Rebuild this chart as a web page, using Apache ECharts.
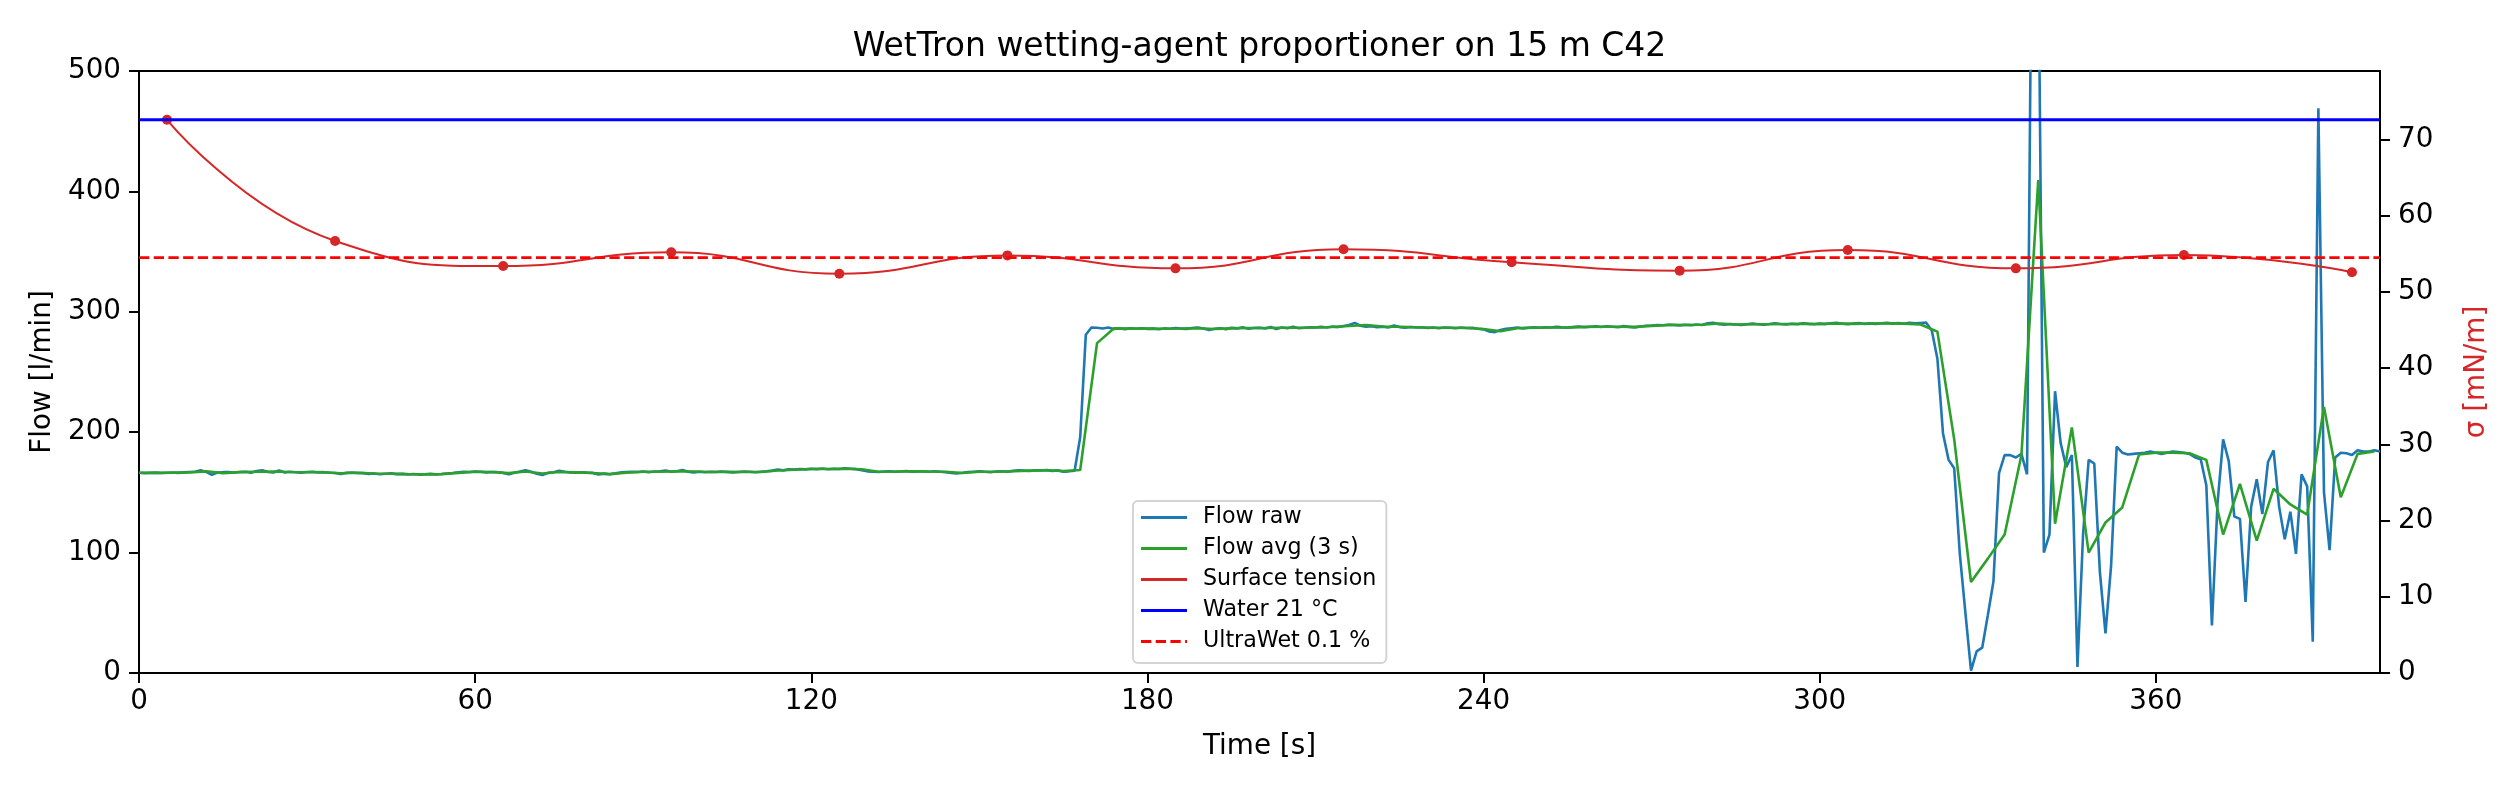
<!DOCTYPE html>
<html>
<head>
<meta charset="utf-8">
<script src="https://cdn.jsdelivr.net/npm/echarts@6/dist/echarts.min.js"></script>
<style>
html,body{margin:0;padding:0;background:#fff;}
#chart{width:2519px;height:787px;}
</style>
</head>
<body>
<div id="chart"></div>
<script>
// ---------------- data ----------------
const chartTitle = 'WetTron wetting-agent proportioner on 15 m C42';
const xTicks = [0, 60, 120, 180, 240, 300, 360];
const flowTicks = [0, 100, 200, 300, 400, 500];
const sigmaTicks = [0, 10, 20, 30, 40, 50, 60, 70];
const timeMin = 0, timeMax = 400;
const flowMax = 500, sigmaMax = 79;

// Flow raw, one sample per second, t = 0 ... 400 s  [l/min]
const flowRawStep = 1;
const flowRaw = [
 166.3,166.0,166.2,166.4,166.1,166.3,166.5,166.2,166.6,167.0,
 167.2,168.3,167.0,164.6,166.4,166.8,167.0,166.5,166.9,167.1,
 166.4,167.8,168.4,167.0,166.5,168.2,166.5,167.2,166.8,166.4,
 166.9,167.2,166.5,166.8,166.3,166.1,165.3,166.2,166.5,166.1,
 166.0,165.4,165.7,165.1,165.5,165.8,165.2,165.4,164.9,165.3,
 164.8,165.1,165.4,165.0,165.3,165.7,166.1,166.8,167.2,166.9,
 167.3,167.1,166.6,167.0,166.8,166.2,165.0,166.4,167.3,168.4,
 167.2,165.5,164.5,166.2,166.8,167.9,167.1,166.5,166.3,166.8,
 166.4,166.2,164.9,165.6,165.1,165.8,166.6,166.9,167.1,167.0,
 167.4,166.8,167.3,167.6,168.1,167.2,167.6,168.6,167.1,166.6,
 167.2,166.8,167.1,166.9,167.4,167.0,166.5,166.9,167.3,167.1,
 166.8,167.2,167.6,168.1,168.9,168.3,169.2,169.0,169.5,169.1,
 169.6,169.3,169.8,169.2,169.6,169.4,170.1,169.7,169.3,168.5,
 167.5,167.2,166.9,167.3,167.6,167.1,167.4,167.8,167.2,167.5,
 167.3,167.1,167.6,167.2,166.8,166.2,165.8,166.3,166.9,167.2,
 167.5,167.1,166.8,167.3,167.6,167.2,167.9,168.3,168.1,167.8,
 168.4,168.2,168.6,167.9,168.3,167.1,167.5,168.0,196.0,281.0,
 287.0,286.8,286.2,286.9,285.7,286.1,285.6,286.4,285.9,286.3,
 285.8,286.0,285.5,286.2,285.9,286.5,286.0,285.7,286.6,287.0,
 286.1,284.8,285.9,286.4,285.6,286.7,286.2,287.1,285.9,286.5,
 286.8,286.2,287.4,285.8,286.9,286.4,287.6,286.3,286.8,287.2,
 286.9,287.5,287.0,287.8,287.3,288.2,289.0,290.8,288.4,287.6,
 288.1,287.2,287.7,287.0,288.6,287.3,286.8,287.4,286.9,287.2,
 286.6,287.0,286.4,286.9,286.7,286.3,286.9,286.5,286.8,285.9,
 285.4,283.6,283.1,284.9,285.8,286.4,286.9,286.2,286.7,287.1,
 286.8,287.2,286.9,287.5,287.1,286.8,287.3,287.7,287.2,287.6,
 287.9,287.4,288.0,287.6,287.2,288.1,287.5,287.0,287.8,288.4,
 288.6,289.1,288.8,289.3,289.0,288.7,289.2,288.9,289.5,289.1,
 290.4,290.9,289.6,289.2,289.8,289.4,289.0,289.6,290.2,289.7,
 289.3,289.8,290.4,289.9,289.5,290.1,289.7,290.5,290.0,289.6,
 290.2,289.8,290.4,290.9,290.1,289.7,290.3,290.6,289.9,290.4,
 290.0,290.5,290.8,290.2,290.6,290.1,290.9,290.4,290.7,291.0,
 284.5,261.0,199.0,177.0,170.0,99.0,50.0,2.0,18.0,21.0,
 48.0,76.0,166.0,181.0,181.0,179.0,182.0,165.0,723.0,620.0,
 100.0,115.0,234.0,191.0,171.0,181.0,5.0,115.0,177.0,174.0,
 84.0,33.0,89.0,188.0,183.0,181.5,182.0,182.5,183.0,184.0,
 183.0,182.0,183.0,184.0,183.5,183.0,182.0,179.0,177.6,156.0,
 39.5,141.0,194.0,176.0,130.0,128.0,59.0,138.0,161.0,132.0,
 175.0,185.0,138.0,111.0,134.0,99.0,165.0,155.0,26.0,469.0,
 150.0,102.0,179.0,183.0,182.5,181.0,185.0,184.0,184.0,185.0,
 184.0
];

// Flow average (3 s), one value every 3 s, t = 0 ... 399 s  [l/min]
const flowAvgStep = 3;
const flowAvg = [
 166.3,166.2,166.3,166.6,167.5,166.0,166.8,167.1,167.4,167.0,
 166.7,166.8,165.9,166.3,165.7,165.5,165.2,165.0,165.2,166.2,
 167.1,166.9,166.0,167.4,165.7,167.0,166.6,166.1,165.2,166.4,
 167.2,167.2,167.6,167.4,167.0,167.1,166.9,167.0,168.2,168.8,
 169.4,169.4,169.7,169.2,167.2,167.3,167.5,167.3,167.2,166.1,
 167.2,167.1,167.6,168.1,168.4,167.8,168.6,
 274.0,286.2,286.0,286.0,285.9,286.1,286.4,285.7,286.2,286.5,
 286.5,286.7,286.8,287.0,287.4,288.2,289.0,287.7,287.6,287.2,
 286.8,286.7,286.6,285.7,283.9,286.4,286.7,287.0,287.1,287.5,
 287.6,287.6,287.5,288.3,289.1,289.0,289.2,290.3,289.5,289.6,
 289.6,289.9,290.1,289.9,290.4,290.0,290.3,290.4,290.2,289.5,
 283.5,194.0,75.6,95.0,115.0,181.0,409.5,124.0,204.0,100.0,
 125.0,137.5,181.5,183.0,183.0,182.5,177.0,115.0,157.0,110.0,
 153.0,140.0,131.6,221.0,146.0,182.0,184.0
];

// Surface tension samples [s] / [mN/m]
const sigmaTimes  = [5, 35, 65, 95, 125, 155, 185, 215, 245, 275, 305, 335, 365, 395];
const sigmaValues = [72.6, 56.7, 53.4, 55.2, 52.4, 54.8, 53.1, 55.6, 53.9, 52.8, 55.5, 53.1, 54.85, 52.6];

// Reference levels [mN/m]
const waterSigma = 72.6;      // Water 21 °C
const ultraWetSigma = 54.5;   // UltraWet 0.1 %

const seriesNames = ['Flow raw', 'Flow avg (3 s)', 'Surface tension', 'Water 21 °C', 'UltraWet 0.1 %'];

// ---------------- chart ----------------
const FONT = 'DejaVu Sans';
const tickFont = 27.8;

const rawData = flowRaw.map((v, i) => [timeMin + i * flowRawStep, v]);
const avgData = flowAvg.map((v, i) => [timeMin + i * flowAvgStep, v]);
const sigmaData = sigmaTimes.map((t, i) => [t, sigmaValues[i]]);
const waterData = [[timeMin, waterSigma], [timeMax, waterSigma]];
const ultraData = [[timeMin, ultraWetSigma], [timeMax, ultraWetSigma]];

const solidIcon = 'path://M0,0H46V3H0Z';
const dashedIcon = 'path://M0,0H10.3V3H0Z M14.7,0H25V3H14.7Z M29.4,0H39.7V3H29.4Z M44.1,0H46V3H44.1Z';

const axisLineStyle = { color: '#000', width: 2 };

const chart = echarts.init(document.getElementById('chart'), null, { renderer: 'canvas', devicePixelRatio: 1 });
chart.setOption({
  animation: false,
  backgroundColor: '#fff',
  textStyle: { fontFamily: FONT },
  title: {
    text: chartTitle,
    left: 'center',
    top: 24,
    textStyle: { fontFamily: FONT, fontSize: 33, fontWeight: 'normal', color: '#000', lineHeight: 36 }
  },
  grid: {
    left: 139, right: 139, top: 71, bottom: 114,
    show: true, borderColor: '#000', borderWidth: 2, backgroundColor: 'transparent',
    containLabel: false
  },
  legend: {
    orient: 'vertical',
    left: 1133, top: 501,
    padding: [1, 10, 6, 8],
    itemWidth: 46, itemHeight: 3, itemGap: 0,
    borderColor: '#d4d4d4', borderWidth: 2, borderRadius: 5,
    backgroundColor: 'rgba(255,255,255,0.8)',
    selectedMode: false,
    itemStyle: { borderWidth: 0 },
    textStyle: { fontFamily: FONT, fontSize: 22.2, color: '#000', lineHeight: 31, padding: [0, 0, 0, 11] },
    data: [
      { name: seriesNames[0], icon: solidIcon },
      { name: seriesNames[1], icon: solidIcon },
      { name: seriesNames[2], icon: solidIcon },
      { name: seriesNames[3], icon: solidIcon },
      { name: seriesNames[4], icon: dashedIcon }
    ]
  },
  xAxis: {
    type: 'value',
    min: timeMin, max: timeMax, interval: 60,
    name: 'Time [s]', nameLocation: 'middle', nameGap: 60,
    nameTextStyle: { fontFamily: FONT, fontSize: tickFont, color: '#000' },
    axisLine: { show: true, onZero: false, lineStyle: axisLineStyle },
    axisTick: { show: true, inside: false, length: 10, lineStyle: axisLineStyle, customValues: xTicks },
    axisLabel: { show: true, margin: 15, fontFamily: FONT, fontSize: tickFont, color: '#000', customValues: xTicks },
    splitLine: { show: false }
  },
  yAxis: [
    {
      type: 'value',
      min: 0, max: flowMax, interval: 100,
      position: 'left',
      name: 'Flow [l/min]', nameLocation: 'middle', nameGap: 82, nameRotate: 90,
      nameTextStyle: { fontFamily: FONT, fontSize: tickFont, color: '#000' },
      axisLine: { show: true, onZero: false, lineStyle: axisLineStyle },
      axisTick: { show: true, inside: false, length: 10, lineStyle: axisLineStyle, customValues: flowTicks },
      axisLabel: { show: true, margin: 18, fontFamily: FONT, fontSize: tickFont, color: '#000', customValues: flowTicks },
      splitLine: { show: false }
    },
    {
      type: 'value',
      min: 0, max: sigmaMax, interval: 10,
      position: 'right',
      name: 'σ [mN/m]', nameLocation: 'middle', nameGap: 83, nameRotate: 90,
      nameTextStyle: { fontFamily: FONT, fontSize: tickFont, color: '#d62728' },
      axisLine: { show: true, onZero: false, lineStyle: axisLineStyle },
      axisTick: { show: true, inside: false, length: 10, lineStyle: axisLineStyle, customValues: sigmaTicks },
      axisLabel: { show: true, margin: 18, fontFamily: FONT, fontSize: tickFont, color: '#000', customValues: sigmaTicks },
      splitLine: { show: false }
    }
  ],
  series: [
    {
      name: seriesNames[0], type: 'line', xAxisIndex: 0, yAxisIndex: 0,
      data: rawData, showSymbol: false, symbol: 'none', clip: true,
      itemStyle: { color: '#1f77b4' },
      lineStyle: { color: '#1f77b4', width: 2.6 },
      z: 2
    },
    {
      name: seriesNames[1], type: 'line', xAxisIndex: 0, yAxisIndex: 0,
      data: avgData, showSymbol: false, symbol: 'none', clip: true,
      itemStyle: { color: '#2ca02c' },
      lineStyle: { color: '#2ca02c', width: 2.6 },
      z: 3
    },
    {
      name: seriesNames[2], type: 'line', xAxisIndex: 0, yAxisIndex: 1,
      data: sigmaData, smooth: 0.5, symbol: 'circle', symbolSize: 10, showSymbol: true,
      itemStyle: { color: '#d62728' },
      lineStyle: { color: '#d62728', width: 2 },
      z: 4
    },
    {
      name: seriesNames[3], type: 'line', xAxisIndex: 0, yAxisIndex: 1,
      data: waterData, showSymbol: false, symbol: 'none',
      itemStyle: { color: '#0000ff' },
      lineStyle: { color: '#0000ff', width: 2.8 },
      z: 5
    },
    {
      name: seriesNames[4], type: 'line', xAxisIndex: 0, yAxisIndex: 1,
      data: ultraData, showSymbol: false, symbol: 'none',
      itemStyle: { color: '#ff0000' },
      lineStyle: { color: '#ff0000', width: 2.8, type: [10.3, 4.4] },
      z: 6
    }
  ]
});
</script>
</body>
</html>
